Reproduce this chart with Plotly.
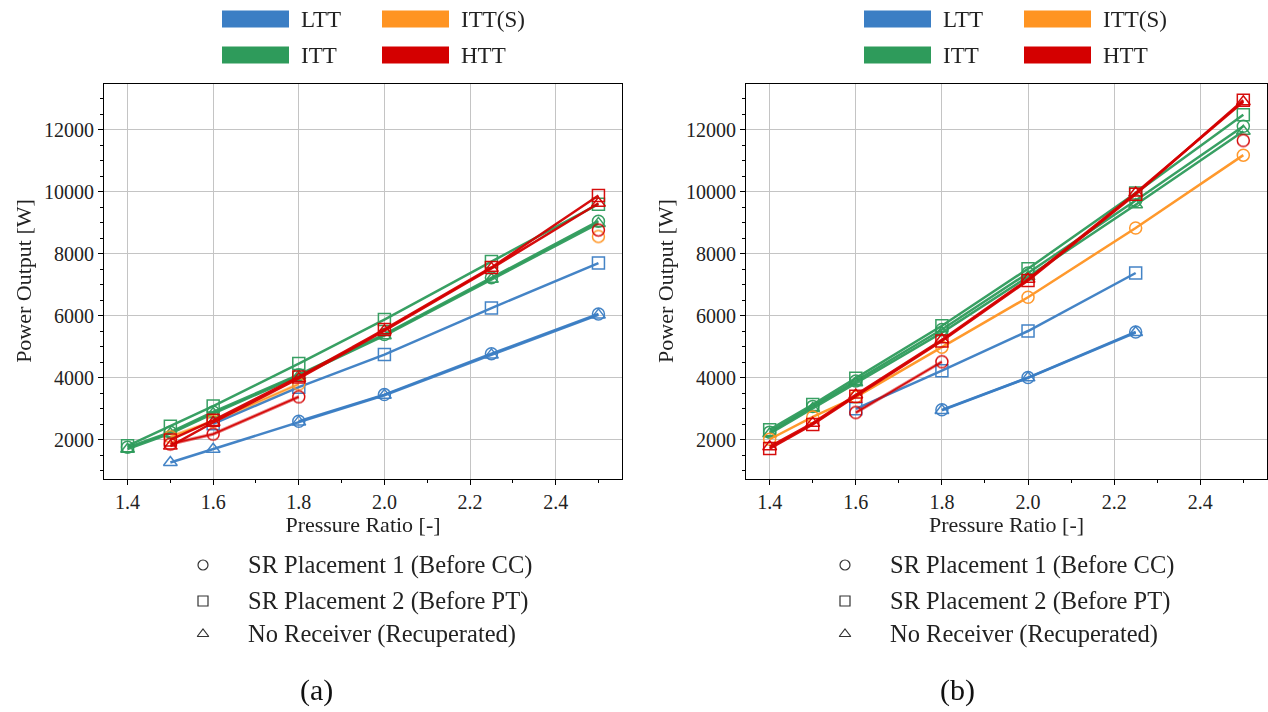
import plotly.graph_objects as go

W, H = 1268, 712

pressure_ratio = [1.4, 1.5, 1.6, 1.8, 2.0, 2.25, 2.5]
x_tick_vals = [1.4, 1.6, 1.8, 2.0, 2.2, 2.4]
y_tick_vals = [2000, 4000, 6000, 8000, 10000, 12000]

# ---- panel (a) ----
ltt_a_circle = [None, None, None, 2600, 3460, 4780, 6060]
ltt_a_square = [None, None, 2520, 3700, 4750, 6250, 7700]
ltt_a_triangle = [None, 1270, 1700, 2580, 3440, 4740, 6030]
itt_a_circle = [1760, 2250, 2900, 4100, 5400, 7230, 9050]
itt_a_square = [1810, 2440, 3090, 4460, 5880, 7750, 9600]
itt_a_triangle = [1700, 2200, 2850, 4060, 5360, 7180, 8980]
itts_a_circle = [None, 2100, 2600, 3800, None, None, 8560]
htt_a_circle = [None, 1870, 2190, 3390, None, None, 8770]
htt_a_square = [None, 2000, 2630, 4030, 5560, 7560, 9880]
htt_a_triangle = [None, 1800, 2560, 3980, 5520, 7530, 9630]

# ---- panel (b) ----
ltt_b_circle = [None, None, None, 2970, 4010, 5480, None]
ltt_b_square = [None, None, 3000, 4230, 5510, 7380, None]
ltt_b_triangle = [None, None, None, 2950, 4000, 5460, None]
itt_b_circle = [2250, 3080, 3900, 5560, 7380, 9720, 12110]
itt_b_square = [2330, 3140, 3990, 5680, 7520, 9960, 12480]
itt_b_triangle = [2200, 3010, 3840, 5460, 7260, 9580, 11950]
itts_b_circle = [2020, 2740, 3380, 4990, 6600, 8830, 11180]
htt_b_circle = [None, None, 2880, 4520, None, None, 11650]
htt_b_square = [1720, 2500, 3410, 5190, 7140, 9920, 12950]
htt_b_triangle = [1780, 2540, 3450, 5230, 7180, 9960, 12900]

series_names = ["LTT", "ITT", "ITT(S)", "HTT"]
colors = {"LTT": "#3b7ec4", "ITT": "#2e9b5b", "ITT(S)": "#ff9422", "HTT": "#d40000"}
placement_labels = ["SR Placement 1 (Before CC)", "SR Placement 2 (Before PT)",
                    "No Receiver (Recuperated)"]
panel_labels = ["(a)", "(b)"]

panel_a = [
    ("LTT", "circle", ltt_a_circle), ("LTT", "square", ltt_a_square), ("LTT", "triangle", ltt_a_triangle),
    ("ITT", "circle", itt_a_circle), ("ITT", "square", itt_a_square), ("ITT", "triangle", itt_a_triangle),
    ("ITT(S)", "circle", itts_a_circle),
    ("HTT", "circle", htt_a_circle), ("HTT", "square", htt_a_square), ("HTT", "triangle", htt_a_triangle),
]
panel_b = [
    ("LTT", "circle", ltt_b_circle), ("LTT", "square", ltt_b_square), ("LTT", "triangle", ltt_b_triangle),
    ("ITT", "circle", itt_b_circle), ("ITT", "square", itt_b_square), ("ITT", "triangle", itt_b_triangle),
    ("ITT(S)", "circle", itts_b_circle),
    ("HTT", "circle", htt_b_circle), ("HTT", "square", htt_b_square), ("HTT", "triangle", htt_b_triangle),
]
symbols = {"circle": "circle-open", "square": "square-open", "triangle": "triangle-up-open"}

FONT = "Liberation Serif, Times New Roman, serif"

fig = go.Figure()


def px_x(p):
    return p / W


def px_y(p):
    return 1 - p / H


for panel, (xa, ya) in ((panel_a, ("x", "y")), (panel_b, ("x2", "y2"))):
    for name, mk, vals in panel:
        fig.add_trace(go.Scatter(
            x=pressure_ratio, y=vals, mode="lines+markers", xaxis=xa, yaxis=ya,
            line=dict(color=colors[name], width=2.5),
            marker=dict(symbol=symbols[mk], size=12, color=colors[name],
                        line=dict(width=1.5, color=colors[name])),
            opacity=0.95,
            showlegend=False, connectgaps=False, cliponaxis=False,
        ))

axis_common = dict(
    showline=True, linecolor="black", linewidth=1, mirror=True,
    ticks="outside", ticklen=5, tickwidth=1, tickcolor="black",
    showgrid=True, gridcolor="#c4c4c4", gridwidth=1, zeroline=False,
    tickfont=dict(family=FONT, size=20, color="#222"),
)
x_common = dict(axis_common, range=[1.345, 2.555], tickvals=x_tick_vals,
                ticktext=[f"{v:.1f}" for v in x_tick_vals],
                minor=dict(dtick=0.1, tick0=1.4, ticks="outside", ticklen=3, tickcolor="black", showgrid=False),
                title=dict(text="Pressure Ratio [-]", font=dict(family=FONT, size=22, color="#222"), standoff=4))
y_common = dict(axis_common, range=[755, 13490], tickvals=y_tick_vals,
                ticktext=[str(v) for v in y_tick_vals],
                minor=dict(dtick=500, tick0=0, ticks="outside", ticklen=3, tickcolor="black", showgrid=False),
                title=dict(text="Power Output [W]", font=dict(family=FONT, size=22, color="#222"), standoff=6))

ydom = [px_y(478.5), px_y(83.5)]
fig.update_layout(
    xaxis=dict(x_common, domain=[px_x(104), px_x(622)], anchor="y"),
    yaxis=dict(y_common, domain=ydom, anchor="x"),
    xaxis2=dict(x_common, domain=[px_x(746), px_x(1267)], anchor="y2"),
    yaxis2=dict(y_common, domain=ydom, anchor="x2"),
    xaxis3=dict(domain=[0, 1], range=[0, W], visible=False, anchor="y3"),
    yaxis3=dict(domain=[0, 1], range=[H, 0], visible=False, anchor="x3"),
)

# top legends (colored patches) and bottom legends (marker keys)
shapes = []
annotations = []
legend_layout = [("LTT", 222, 19), ("ITT(S)", 382, 19), ("ITT", 222, 55), ("HTT", 382, 55)]
for off in (0, 642):
    for name, x0, yc in legend_layout:
        shapes.append(dict(type="rect", xref="paper", yref="paper",
                           x0=px_x(x0 + off), x1=px_x(x0 + off + 67),
                           y0=px_y(yc + 8.5), y1=px_y(yc - 8.5),
                           fillcolor=colors[name], line=dict(width=0)))
        annotations.append(dict(text=name, x=px_x(x0 + off + 77), y=px_y(yc), xref="paper", yref="paper",
                                xanchor="left", yanchor="middle", showarrow=False,
                                font=dict(family=FONT, size=23, color="#222")))
    key_sym = ["circle-open", "square-open", "triangle-up-open"]
    key_y = [565, 601, 634]
    fig.add_trace(go.Scatter(
        x=[203 + off] * 3, y=key_y, mode="markers", xaxis="x3", yaxis="y3",
        marker=dict(symbol=key_sym, size=10, color="#333", line=dict(width=1.2, color="#333")),
        showlegend=False, hoverinfo="skip"))
    for lbl, yk in zip(placement_labels, key_y):
        annotations.append(dict(text=lbl, x=px_x(246 + off), y=px_y(yk), xref="paper", yref="paper",
                                xanchor="left", yanchor="middle", showarrow=False,
                                font=dict(family=FONT, size=24.5, color="#222")))

for lbl, xc in zip(panel_labels, (316, 957)):
    annotations.append(dict(text=lbl, x=px_x(xc), y=px_y(690), xref="paper", yref="paper",
                            xanchor="center", yanchor="middle", showarrow=False,
                            font=dict(family=FONT, size=30, color="#111")))

fig.update_layout(
    width=W, height=H, margin=dict(l=0, r=0, t=0, b=0),
    paper_bgcolor="white", plot_bgcolor="rgba(0,0,0,0)",
    shapes=shapes, annotations=annotations, showlegend=False,
)

fig.write_html("out.html")
